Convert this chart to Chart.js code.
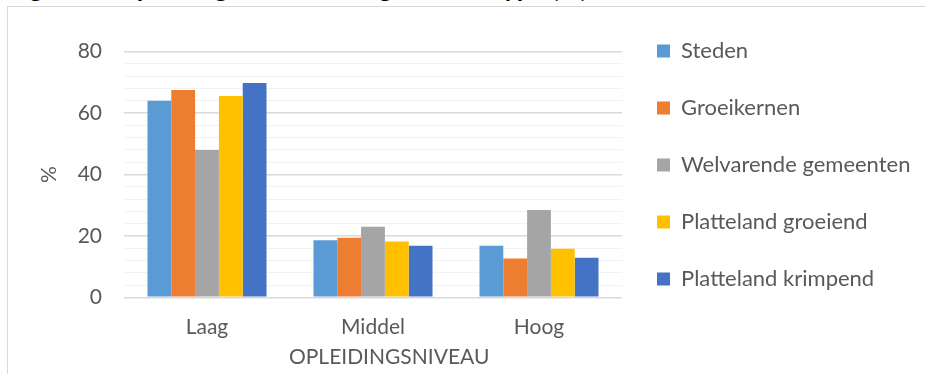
<!DOCTYPE html>
<html>
<head>
<meta charset="utf-8">
<script src="https://cdn.jsdelivr.net/npm/chart.js@4"></script>
<style>
  body { margin: 0; width: 925px; height: 374px; overflow: hidden; background: #fff; position: relative; }
  #caption { position: absolute; left: 8px; top: -26px; font: bold 26px Lato, sans-serif; line-height: 26px; color: #000; white-space: nowrap; }
  #frame { position: absolute; left: 7px; top: 6px; width: 1000px; height: 400px; border-left: 1px solid #d9d9d9; border-top: 1px solid #d9d9d9; }
  #wrap { position: absolute; left: 8px; top: 5px; width: 940px; height: 380px; }
</style>
</head>
<body>
<div id="caption">Figuur 4: Opleidingsniveau naar gemeentetype (%)</div>
<div id="frame"></div>
<div id="wrap"><canvas id="chart"></canvas></div>
<script>
const categories = ['Laag', 'Middel', 'Hoog'];
const seriesNames = ['Steden', 'Groeikernen', 'Welvarende gemeenten', 'Platteland groeiend', 'Platteland krimpend'];
const steden = [64.0, 18.6, 16.8];
const groeikernen = [67.5, 19.4, 12.6];
const welvarend = [48.0, 23.0, 28.4];
const plattelandGroeiend = [65.6, 18.2, 15.8];
const plattelandKrimpend = [69.8, 16.8, 12.9];
const yLabels = [0, 20, 40, 60, 80];

const colors = ['#5b9bd5', '#ed7d31', '#a5a5a5', '#ffc000', '#4472c4'];
const values = [steden, groeikernen, welvarend, plattelandGroeiend, plattelandKrimpend];
const textColor = '#595959';
const font = { family: 'Lato, sans-serif', size: 21 };
const legendFont = { family: 'Lato, sans-serif', size: 22 };

// legend width = padding + box + gap + longest label + 10, so the plot can end at x=614
const measure = document.createElement('canvas').getContext('2d');
measure.font = '22px Lato, sans-serif';
const longest = Math.max(...seriesNames.map(n => measure.measureText(n).width));
const legendWidth = 35 + 13 + 11 + longest + 10;
const padRight = 940 - 614 - legendWidth;

new Chart(document.getElementById('chart'), {
  type: 'bar',
  data: {
    labels: categories,
    datasets: seriesNames.map((name, i) => ({
      label: name,
      data: values[i],
      backgroundColor: colors[i],
      borderWidth: 0,
      categoryPercentage: 0.717,
      barPercentage: 1.0
    }))
  },
  options: {
    responsive: true,
    maintainAspectRatio: false,
    animation: false,
    devicePixelRatio: 1,
    layout: { padding: { left: 0, right: padRight, top: 0, bottom: 0 } },
    plugins: {
      // empty top box keeps the plot below the legend's first row
      title: { display: true, text: '', fullSize: false, font: { size: 10 }, padding: { top: 0, bottom: 34.7 } },
      tooltip: { enabled: false },
      legend: {
        position: 'right',
        align: 'start',
        maxWidth: 400,
        labels: { boxWidth: 13, boxHeight: 13, padding: 35, color: textColor, font: legendFont }
      }
    },
    scales: {
      x: {
        afterFit: s => { s.height = 87.7; },
        grid: { display: false, drawTicks: false },
        border: { display: false },
        ticks: { color: textColor, font: font, padding: 17 },
        // leading spaces nudge the axis title a little right of the plot centre
        title: { display: true, text: '      OPLEIDINGSNIVEAU', color: textColor, font: font, padding: { top: 0, bottom: 15.4 } }
      },
      y: {
        min: 0,
        max: 80,
        afterFit: s => { s.width = 116; },
        border: { display: false },
        grid: {
          drawTicks: false,
          color: ctx => yLabels.includes(ctx.tick.value) ? '#d9d9d9' : '#f2f2f2',
          lineWidth: ctx => yLabels.includes(ctx.tick.value) ? 1.5 : 1
        },
        ticks: {
          stepSize: 4,
          autoSkip: false,
          padding: 22,
          color: textColor,
          font: font,
          callback: v => yLabels.includes(v) ? v : ''
        },
        title: { display: true, text: '%', color: textColor, font: font, padding: { top: 28.4, bottom: 0 } }
      }
    }
  }
});
</script>
</body>
</html>
